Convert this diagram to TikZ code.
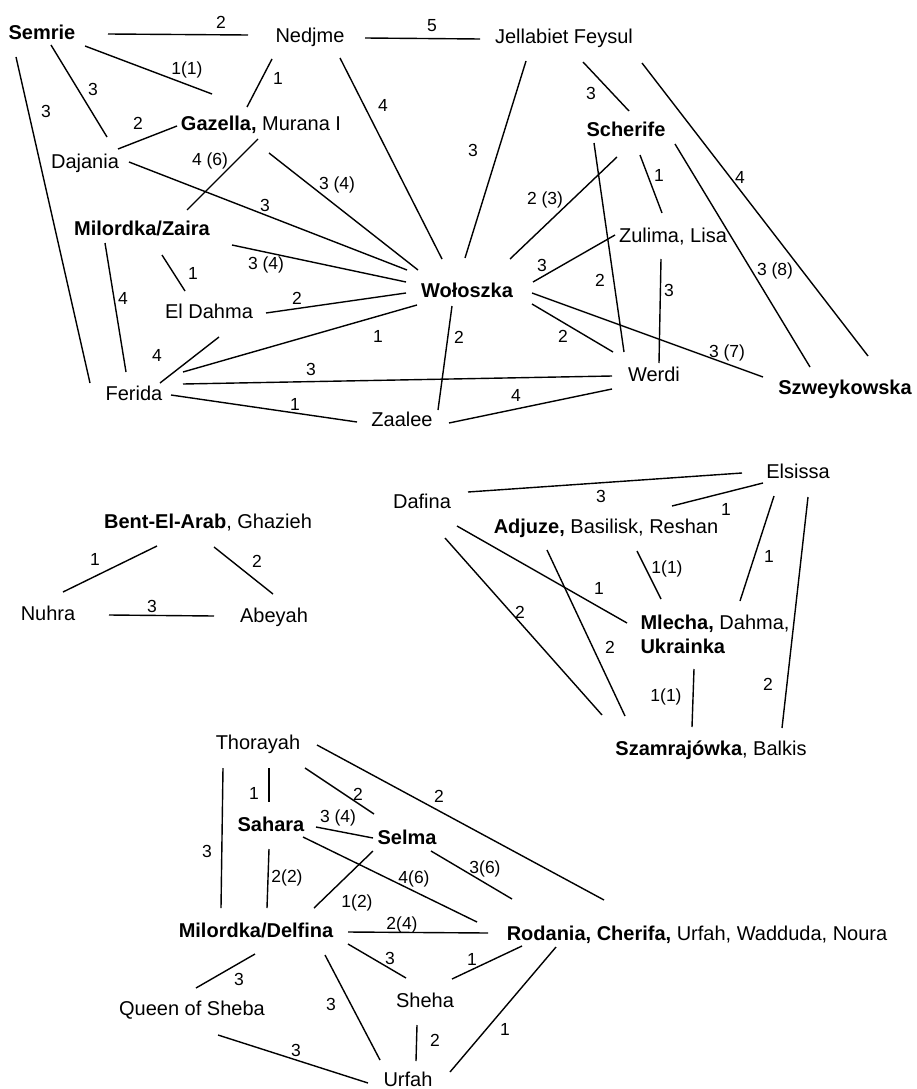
\documentclass[tikz,border=0pt]{standalone}
\usepackage{fontspec}
\setmainfont{Liberation Sans}
\newcommand\myedge[4]{\draw[ln] ([shift={(#2)}]#1.center) -- ([shift={(#4)}]#3.center);}
\begin{document}
\begin{tikzpicture}[x=1pt,y=-1pt,
  nd/.style={inner sep=0pt, font=\fontsize{20}{24}\selectfont, text height=14.4pt, text depth=0pt},
  bnd/.style={nd, font=\fontsize{20}{24}\selectfont\bfseries},
  lb/.style={inner sep=0pt, font=\fontsize{17.5}{20}\selectfont, text height=12.5pt, text depth=0pt},
  ln/.style={line width=1.4pt}]
\useasboundingbox[fill=white] (0,0) rectangle (916,1089);
% ---------- top group ----------
\node[bnd] (semrie) at (42,32) {Semrie};
\node[nd] (nedjme) at (310,35) {Nedjme};
\node[nd] (jell) at (564,36) {Jellabiet Feysul};
\node[nd] (gazella) at (261,123) {\textbf{Gazella,} Murana I};
\node[nd] (dajania) at (85,161) {Dajania};
\node[bnd] (scher) at (626,129) {Scherife};
\node[bnd] (milzaira) at (142,228) {Milordka/Zaira};
\node[nd] (zulima) at (673,235) {Zulima, Lisa};
\node[bnd] (wol) at (467,290) {Wołoszka};
\node[nd] (eldahma) at (209,311) {El Dahma};
\node[nd] (ferida) at (134,393) {Ferida};
\node[nd] (werdi) at (654,374) {Werdi};
\node[bnd] (szwey) at (845,387) {Szweykowska};
\node[nd] (zaalee) at (402,419) {Zaalee};
\myedge{semrie}{66,2}{nedjme}{-62,0}
\myedge{nedjme}{55,3}{jell}{-84,3}
\myedge{semrie}{43,14}{gazella}{-49,-29}
\myedge{semrie}{9,13}{dajania}{22,-24}
\myedge{semrie}{-26,25}{ferida}{-44,-10}
\myedge{nedjme}{-38,24}{gazella}{-14,-16}
\myedge{nedjme}{30,23}{wol}{-25,-31}
\myedge{dajania}{33,-12}{gazella}{-84,3}
\myedge{dajania}{44,1}{wol}{-60,-20}
\myedge{gazella}{-3,16}{milzaira}{45,-18}
\myedge{gazella}{8,30}{wol}{-49,-20}
\myedge{milzaira}{-37,15}{ferida}{-8,-21}
\myedge{milzaira}{20,27}{eldahma}{-24,-20}
\myedge{milzaira}{90,17}{wol}{-61,-8}
\myedge{eldahma}{57,2}{wol}{-61,3}
\myedge{eldahma}{10,26}{ferida}{26,-10}
\myedge{ferida}{49,-21}{wol}{-50,15}
\myedge{ferida}{49,-9}{werdi}{-42,2}
\myedge{ferida}{37,2}{zaalee}{-45,3}
\myedge{wol}{-15,16}{zaalee}{36,-9}
\myedge{zaalee}{47,4}{werdi}{-42,15}
\myedge{jell}{-38,25}{wol}{-2,-32}
\myedge{jell}{19,26}{scher}{3,-18}
\myedge{jell}{78,27}{szwey}{23,-31}
\myedge{scher}{-32,14}{werdi}{-30,-22}
\myedge{scher}{-9,28}{wol}{43,-31}
\myedge{scher}{14,26}{zulima}{-11,-22}
\myedge{scher}{49,15}{szwey}{-35,-20}
\myedge{wol}{66,-8}{zulima}{-58,0}
\myedge{zulima}{-12,24}{werdi}{5,-11}
\myedge{wol}{65,14}{werdi}{-41,-22}
\myedge{wol}{65,3}{szwey}{-82,-10}
\node[lb] (l1) at (221,22) {2};
\node[lb] (l2) at (432,25) {5};
\node[lb] (l3) at (187,68) {1(1)};
\node[lb] (l4) at (93,89) {3};
\node[lb] (l5) at (46,111) {3};
\node[lb] (l6) at (278,78) {1};
\node[lb] (l7) at (383,105) {4};
\node[lb] (l8) at (138,123) {2};
\node[lb] (l9) at (265,205) {3};
\node[lb] (l10) at (210,159) {4 (6)};
\node[lb] (l11) at (337,183) {3 (4)};
\node[lb] (l12) at (123,298) {4};
\node[lb] (l13) at (193,273) {1};
\node[lb] (l14) at (266,263) {3 (4)};
\node[lb] (l15) at (297,298) {2};
\node[lb] (l16) at (157,355) {4};
\node[lb] (l17) at (378,336) {1};
\node[lb] (l18) at (311,369) {3};
\node[lb] (l19) at (295,404) {1};
\node[lb] (l20) at (459,337) {2};
\node[lb] (l21) at (516,395) {4};
\node[lb] (l22) at (473,150) {3};
\node[lb] (l23) at (591,93) {3};
\node[lb] (l24) at (740,177) {4};
\node[lb] (l25) at (600,280) {2};
\node[lb] (l26) at (545,198) {2 (3)};
\node[lb] (l27) at (659,175) {1};
\node[lb] (l28) at (775,269) {3 (8)};
\node[lb] (l29) at (542,265) {3};
\node[lb] (l30) at (669,290) {3};
\node[lb] (l31) at (563,336) {2};
\node[lb] (l32) at (727,351) {3 (7)};
% ---------- middle groups ----------
\node[nd] (elsissa) at (798,471) {Elsissa};
\node[nd] (dafina) at (422,501) {Dafina};
\node[nd] (bent) at (208,521) {\textbf{Bent-El-Arab}, Ghazieh};
\node[nd] (adjuze) at (606,526) {\textbf{Adjuze,} Basilisk, Reshan};
\node[nd] (nuhra) at (48,613) {Nuhra};
\node[nd] (abeyah) at (274,615) {Abeyah};
\node[inner sep=0pt, font=\fontsize{20}{24}\selectfont, align=left] (mlecha) at (715,634) {\textbf{Mlecha,} Dahma,\\\textbf{Ukrainka}};
\node[nd] (szamra) at (711,748) {\textbf{Szamrajówka}, Balkis};
\myedge{bent}{-51,25}{nuhra}{15,-21}
\myedge{bent}{6,26}{abeyah}{-1,-21}
\myedge{nuhra}{61,2}{abeyah}{-60,1}
\myedge{dafina}{46,-9}{elsissa}{-56,2}
\myedge{elsissa}{-35,12}{adjuze}{66,-20}
\myedge{elsissa}{-24,25}{mlecha}{25,-33}
\myedge{elsissa}{10,26}{szamra}{71,-20}
\myedge{adjuze}{31,25}{mlecha}{-54,-35}
\myedge{dafina}{35,25}{mlecha}{-88,-11}
\myedge{dafina}{23,37}{szamra}{-109,-33}
\myedge{adjuze}{-59,24}{szamra}{-86,-32}
\myedge{mlecha}{-21,35}{szamra}{-19,-21}
\node[lb] (m1) at (95,559) {1};
\node[lb] (m2) at (257,561) {2};
\node[lb] (m3) at (152,606) {3};
\node[lb] (m4) at (601,496) {3};
\node[lb] (m5) at (726,509) {1};
\node[lb] (m6) at (769,556) {1};
\node[lb] (m7) at (768,684) {2};
\node[lb] (m8) at (667,567) {1(1)};
\node[lb] (m9) at (599,588) {1};
\node[lb] (m10) at (520,612) {2};
\node[lb] (m11) at (610,647) {2};
\node[lb] (m12) at (666,695) {1(1)};
% ---------- bottom group ----------
\node[nd] (thor) at (258,742) {Thorayah};
\node[bnd] (sahara) at (271,824) {Sahara};
\node[bnd] (selma) at (407,837) {Selma};
\node[bnd] (mildelf) at (256,930) {Milordka/Delfina};
\node[nd] (rodania) at (697,933) {\textbf{Rodania, Cherifa,} Urfah, Wadduda, Noura};
\node[nd] (queen) at (192,1008) {Queen of Sheba};
\node[nd] (sheha) at (425,1000) {Sheha};
\node[nd] (urfah) at (408,1079) {Urfah};
\myedge{thor}{-35,26}{mildelf}{-35,-22}
\myedge{thor}{11,26}{sahara}{-2,-22}
\myedge{thor}{47,26}{selma}{-33,-23}
\myedge{thor}{59,3}{rodania}{-93,-33}
\myedge{sahara}{45,3}{selma}{-34,1}
\myedge{sahara}{-2,25}{mildelf}{11,-22}
\myedge{sahara}{32,13}{rodania}{-220,-11}
\myedge{selma}{-34,14}{mildelf}{58,-22}
\myedge{selma}{24,14}{rodania}{-185,-34}
\myedge{mildelf}{92,2}{rodania}{-209,0}
\myedge{mildelf}{-1,24}{queen}{4,-20}
\myedge{mildelf}{69,25}{urfah}{-28,-19}
\myedge{mildelf}{92,14}{sheha}{-19,-22}
\myedge{queen}{26,27}{urfah}{-40,4}
\myedge{sheha}{27,-21}{rodania}{-175,13}
\myedge{sheha}{-8,25}{urfah}{8,-18}
\myedge{rodania}{-141,14}{urfah}{42,-7}
\node[lb] (b1) at (207,851) {3};
\node[lb] (b2) at (254,793) {1};
\node[lb] (b3) at (358,794) {2};
\node[lb] (b4) at (439,796) {2};
\node[lb] (b5) at (338,816) {3 (4)};
\node[lb] (b6) at (287,876) {2(2)};
\node[lb] (b7) at (414,877) {4(6)};
\node[lb] (b8) at (357,901) {1(2)};
\node[lb] (b9) at (485,867) {3(6)};
\node[lb] (b10) at (402,923) {2(4)};
\node[lb] (b11) at (239,979) {3};
\node[lb] (b12) at (331,1004) {3};
\node[lb] (b13) at (390,958) {3};
\node[lb] (b14) at (296,1050) {3};
\node[lb] (b15) at (472,959) {1};
\node[lb] (b16) at (435,1040) {2};
\node[lb] (b17) at (505,1029) {1};
\end{tikzpicture}
\end{document}
